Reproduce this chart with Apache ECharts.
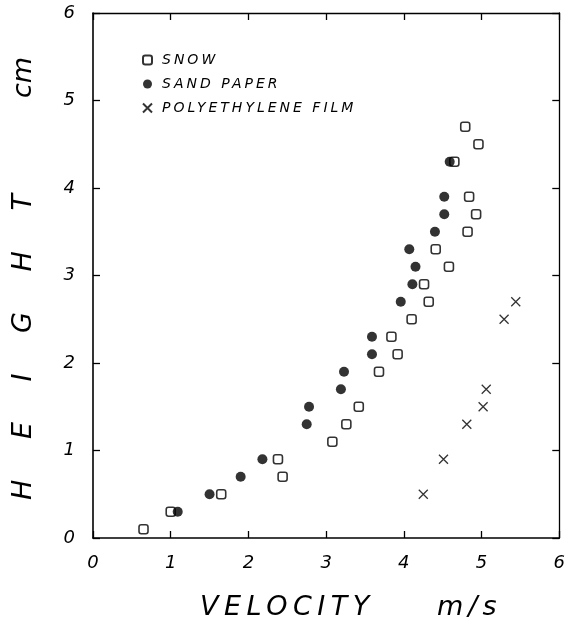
<!DOCTYPE html>
<html><head><meta charset="utf-8">
<script src="https://cdn.jsdelivr.net/npm/echarts@6/dist/echarts.min.js"></script>
<style>html,body{margin:0;padding:0;background:#fff}#c{width:568px;height:626px}</style>
</head><body><div id="c"></div>
<script>
const seriesNames = ['SNOW', 'SAND PAPER', 'POLYETHYLENE FILM'];
const snowX = [0.65,1.00,1.65,2.44,2.38,3.08,3.26,3.42,3.68,3.92,3.84,4.10,4.32,4.26,4.58,4.41,4.82,4.93,4.84,4.65,4.96,4.79];
const snowY = [0.1,0.3,0.5,0.7,0.9,1.1,1.3,1.5,1.9,2.1,2.3,2.5,2.7,2.9,3.1,3.3,3.5,3.7,3.9,4.3,4.5,4.7];
const sandX = [1.09,1.50,1.90,2.18,2.75,2.78,3.19,3.23,3.59,3.59,3.96,4.11,4.15,4.07,4.40,4.52,4.52,4.59];
const sandY = [0.3,0.5,0.7,0.9,1.3,1.5,1.7,1.9,2.1,2.3,2.7,2.9,3.1,3.3,3.5,3.7,3.9,4.3];
const polyX = [4.25,4.51,4.81,5.02,5.06,5.29,5.44];
const polyY = [0.5,0.9,1.3,1.5,1.7,2.5,2.7];
const xTicks = [0,1,2,3,4,5,6];
const yTicks = [0,1,2,3,4,5,6];
const xName = ['VELOCITY', 'm/s'];
const yName = ['H E I G H T', 'cm'];

// letter spacing (px) for the plotter-style wide lettering
const spacing = {'VELOCITY':5.5, 'm/s':5, 'H E I G H T':16, 'SNOW':3, 'SAND PAPER':3, 'POLYETHYLENE FILM':3};
(function(){
  const P = CanvasRenderingContext2D.prototype;
  const fill = P.fillText, meas = P.measureText;
  P.fillText = function(t, x, y, m){ this.letterSpacing = (spacing[t]||0)+'px'; const r = m===undefined? fill.call(this,t,x,y) : fill.call(this,t,x,y,m); this.letterSpacing='0px'; return r; };
  P.measureText = function(t){ this.letterSpacing = (spacing[t]||0)+'px'; const r = meas.call(this,t); this.letterSpacing='0px'; return r; };
})();

const zip = (a,b) => a.map((v,i)=>[v,b[i]]);
const fontFam = '"DejaVu Sans", sans-serif';
const ink = '#000';
const tickFont = {fontFamily: fontFam, fontStyle:'italic', fontWeight:'lighter', fontSize:18, color:ink};
const lineStyle = {color:ink, width:1.3};
const crossPath = 'path://M0,0L10,10M10,0L0,10';
const axisCommon = {type:'value', min:0, max:6, interval:1, splitLine:{show:false},
  axisTick:{show:true, inside:true, length:7, lineStyle}};

const chart = echarts.init(document.getElementById('c'), null, {renderer:'canvas'});
chart.setOption({
  animation:false,
  backgroundColor:'#fff',
  grid:{left:93, right:5, top:13, bottom:88},
  xAxis:[
    {...axisCommon, position:'bottom', axisLine:{show:true, onZero:false, lineStyle:{color:ink, width:1.6}},
     axisLabel:{...tickFont, margin:16, formatter:v=>xTicks.includes(v)?String(v):''}},
    {...axisCommon, position:'top', axisLine:{show:true, onZero:false, lineStyle}, axisLabel:{show:false}}
  ],
  yAxis:[
    {...axisCommon, position:'left', axisLine:{show:true, onZero:false, lineStyle:{color:ink, width:1.6}},
     axisLabel:{...tickFont, margin:18, formatter:v=>yTicks.includes(v)?String(v):''}},
    {...axisCommon, position:'right', axisLine:{show:true, onZero:false, lineStyle}, axisLabel:{show:false}}
  ],
  legend:{
    orient:'vertical', left:137, top:48, itemGap:10, itemWidth:9, itemHeight:9,
    textStyle:{fontFamily:fontFam, fontStyle:'italic', fontWeight:'lighter', fontSize:14, color:ink, padding:[0,0,0,5]},
    data:seriesNames
  },
  series:[
    {name:seriesNames[0], type:'scatter', data:zip(snowX,snowY), symbol:'roundRect', symbolSize:9,
     itemStyle:{color:'#fff', borderColor:ink, borderWidth:1.6}},
    {name:seriesNames[1], type:'scatter', data:zip(sandX,sandY), symbol:'circle', symbolSize:10,
     itemStyle:{color:ink, borderColor:ink, borderWidth:0}},
    {name:seriesNames[2], type:'scatter', data:zip(polyX,polyY), symbol:crossPath, symbolSize:9,
     itemStyle:{color:'rgba(0,0,0,0)', borderColor:ink, borderWidth:1.3}}
  ],
  graphic:[
    {type:'text', x:200, y:608, style:{text:xName[0], font:'italic 200 27px '+fontFam, fill:ink, align:'left', verticalAlign:'middle'}},
    {type:'text', x:437, y:608, style:{text:xName[1], font:'italic 200 27px '+fontFam, fill:ink, align:'left', verticalAlign:'middle'}},
    {type:'text', x:24, y:500, rotation:Math.PI/2,
     style:{text:yName[0], font:'italic 200 27px '+fontFam, fill:ink, align:'left', verticalAlign:'middle'}},
    {type:'text', x:24, y:98, rotation:Math.PI/2,
     style:{text:yName[1], font:'italic 200 27px '+fontFam, fill:ink, align:'left', verticalAlign:'middle'}}
  ]
});
</script></body></html>
